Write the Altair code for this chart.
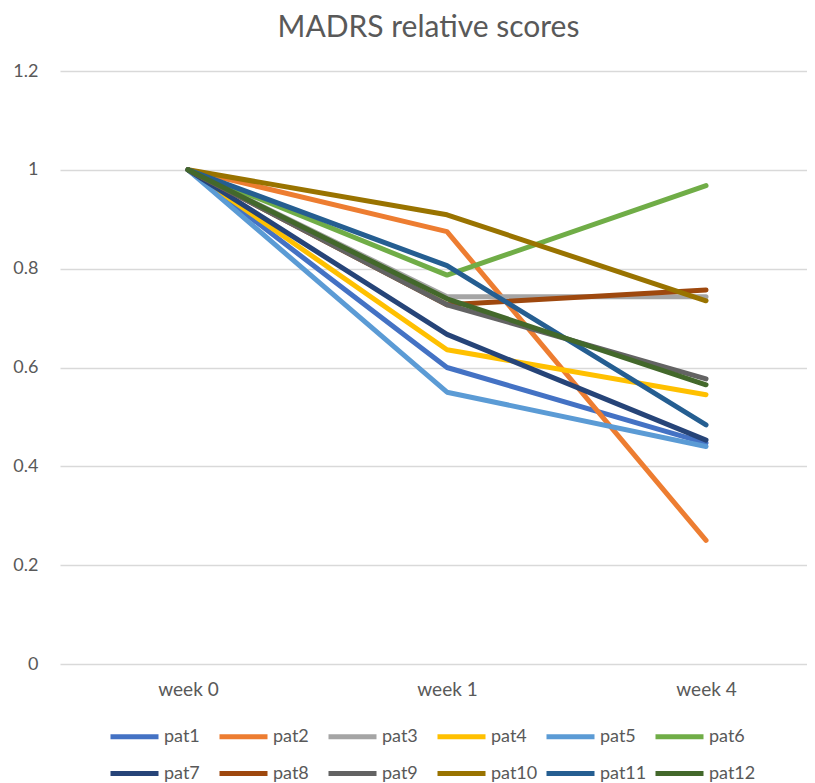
import altair as alt
import pandas as pd

weeks = ["week 0", "week 1", "week 4"]
patients = ["pat1", "pat2", "pat3", "pat4", "pat5", "pat6",
            "pat7", "pat8", "pat9", "pat10", "pat11", "pat12"]
pat1 = [1.0, 0.600, 0.447]
pat2 = [1.0, 0.875, 0.250]
pat3 = [1.0, 0.743, 0.743]
pat4 = [1.0, 0.636, 0.545]
pat5 = [1.0, 0.550, 0.440]
pat6 = [1.0, 0.787, 0.968]
pat7 = [1.0, 0.667, 0.453]
pat8 = [1.0, 0.727, 0.757]
pat9 = [1.0, 0.727, 0.577]
pat10 = [1.0, 0.909, 0.735]
pat11 = [1.0, 0.806, 0.484]
pat12 = [1.0, 0.739, 0.565]
series = [pat1, pat2, pat3, pat4, pat5, pat6, pat7, pat8, pat9, pat10, pat11, pat12]
colors = ["#4472C4", "#ED7D31", "#A5A5A5", "#FFC000", "#5B9BD5", "#70AD47",
          "#264478", "#9E480E", "#636363", "#997300", "#255E91", "#43682B"]
y_ticks = [0, 0.2, 0.4, 0.6, 0.8, 1.0, 1.2]

rows = []
for name, vals in zip(patients, series):
    for w, v in zip(weeks, vals):
        rows.append({"patient": name, "week": w, "score": v})
df = pd.DataFrame(rows)

FONT = "Lato"
GREY = "#595959"

chart = alt.Chart(df).mark_line(strokeWidth=5, strokeCap="round", strokeJoin="round").encode(
    x=alt.X("week:O", sort=weeks, title=None,
            scale=alt.Scale(type="point", padding=0.442, align=0.559),
            axis=alt.Axis(labelAngle=0, domain=False, ticks=False, tickSize=0, grid=False,
                          labelFontSize=19, labelColor=GREY, labelFont=FONT, labelPadding=16)),
    y=alt.Y("score:Q", title=None,
            scale=alt.Scale(domain=[0, 1.2], nice=False, zero=True),
            axis=alt.Axis(values=y_ticks, format="~g", domain=False, ticks=False, tickSize=0,
                          gridColor="#D9D9D9", gridWidth=1.5,
                          labelFontSize=18, labelColor=GREY, labelFont=FONT, labelPadding=22)),
    color=alt.Color("patient:N", sort=patients,
                    scale=alt.Scale(domain=patients, range=colors),
                    legend=alt.Legend(title=None, orient="none", legendX=48, legendY=639,
                                      direction="horizontal",
                                      columns=6, symbolType="stroke", symbolStrokeWidth=5,
                                      symbolSize=2304, labelFontSize=18, labelColor=GREY,
                                      labelFont=FONT, labelOffset=3, columnPadding=-2,
                                      rowPadding=-13, gridAlign="all", padding=0)),
    order=alt.Order("patient:N"),
).properties(
    width=747, height=593,
    title=alt.TitleParams("MADRS relative scores", fontSize=30, font=FONT, color=GREY,
                          fontWeight="normal", offset=19, dx=-5),
    autosize=alt.AutoSizeParams(type="none"),
    padding={"left": 52, "top": 63, "right": 0, "bottom": 119},
).configure_view(stroke=None)

chart.save("out.html", embed_options={"renderer": "svg", "actions": False})
